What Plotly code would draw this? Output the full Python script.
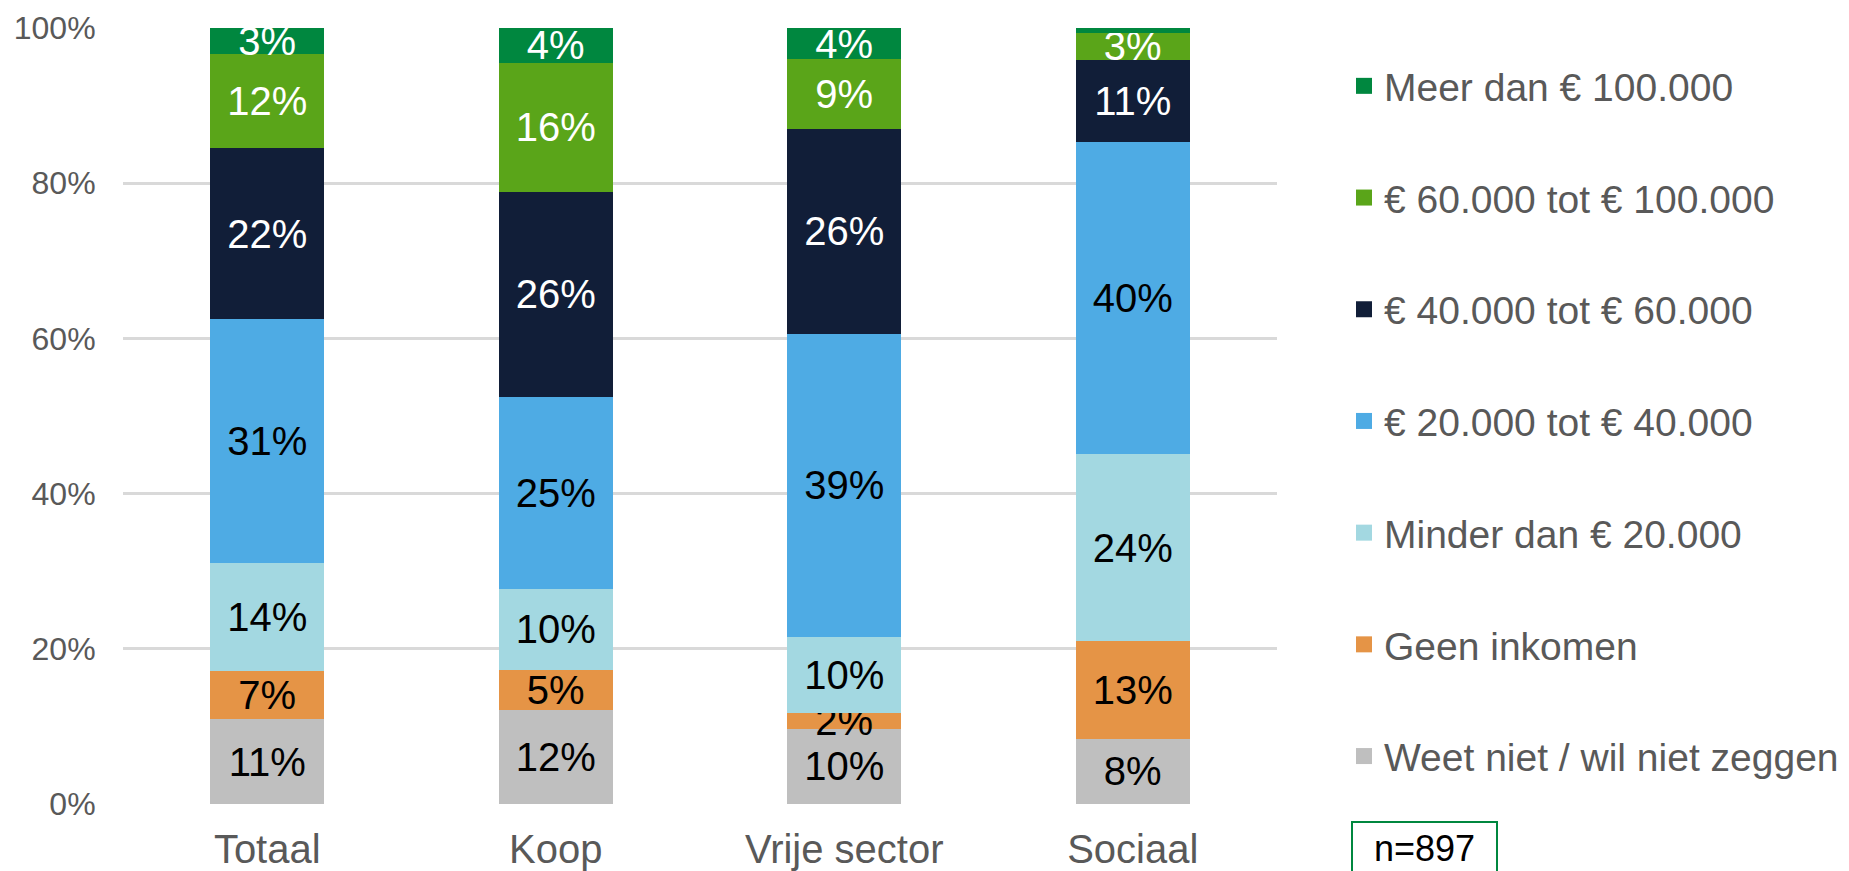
import plotly.graph_objects as go

categories = ["Totaal", "Koop", "Vrije sector", "Sociaal"]

series_names = [
    "Weet niet / wil niet zeggen",
    "Geen inkomen",
    "Minder dan € 20.000",
    "€ 20.000 tot € 40.000",
    "€ 40.000 tot € 60.000",
    "€ 60.000 tot € 100.000",
    "Meer dan € 100.000",
]

weet_niet = [10.9, 12.1, 9.7, 8.4]
geen_inkomen = [6.2, 5.2, 2.0, 12.6]
minder_20k = [14.0, 10.4, 9.8, 24.1]
k20_40 = [31.4, 24.8, 39.1, 40.2]
k40_60 = [22.0, 26.4, 26.4, 10.6]
k60_100 = [12.2, 16.6, 9.0, 3.5]
meer_100k = [3.3, 4.5, 4.0, 0.6]

labels_weet_niet = ["11%", "12%", "10%", "8%"]
labels_geen_inkomen = ["7%", "5%", "2%", "13%"]
labels_minder_20k = ["14%", "10%", "10%", "24%"]
labels_20_40 = ["31%", "25%", "39%", "40%"]
labels_40_60 = ["22%", "26%", "26%", "11%"]
labels_60_100 = ["12%", "16%", "9%", "3%"]
labels_meer_100k = ["3%", "4%", "4%", ""]

y_ticks = [0, 20, 40, 60, 80, 100]
y_tick_text = ["0%", "20%", "40%", "60%", "80%", "100%"]
sample_note = "n=897"

series_values = [weet_niet, geen_inkomen, minder_20k, k20_40, k40_60, k60_100, meer_100k]
series_labels = [labels_weet_niet, labels_geen_inkomen, labels_minder_20k, labels_20_40,
                 labels_40_60, labels_60_100, labels_meer_100k]
colors = ["#BFBFBF", "#E59446", "#A3D8E1", "#4EABE4", "#111E38", "#5AA519", "#00873F"]
text_colors = ["#000000", "#000000", "#000000", "#000000", "#FFFFFF", "#FFFFFF", "#FFFFFF"]

FONT = "Arial, 'Liberation Sans', sans-serif"
W, H = 1849, 871
L, R, T, B = 123, 572, 28, 67
PW, PH = W - L - R, H - T - B


def px_x(px):
    return (px - L) / PW


def px_y(py):
    return (H - B - py) / PH


fig = go.Figure()
for name, vals, labs, col, tcol in zip(series_names, series_values, series_labels, colors, text_colors):
    fig.add_trace(go.Bar(
        x=categories, y=vals, name=name, text=labs,
        marker=dict(color=col, line=dict(width=0)),
        textposition="inside", insidetextanchor="middle", textangle=0,
        textfont=dict(family=FONT, size=40, color=tcol),
        showlegend=False, hoverinfo="skip", cliponaxis=True,
    ))

# legend entries, listed top to bottom as in the reference
for i in range(len(series_names) - 1, -1, -1):
    fig.add_trace(go.Scatter(
        x=[None], y=[None], mode="markers", name=series_names[i],
        marker=dict(symbol="square", size=18, color=colors[i]),
        legendgroup=f"g{i}", showlegend=True, hoverinfo="skip",
    ))

fig.update_layout(
    width=W, height=H,
    margin=dict(l=L, r=R, t=T, b=B, autoexpand=False),
    barmode="stack", bargap=0.605,
    paper_bgcolor="white", plot_bgcolor="white",
    font=dict(family=FONT, color="#595959"),
    uniformtext=dict(minsize=40, mode="show"),
    legend=dict(
        xref="container", yref="container",
        x=1344 / W, y=1 - 54 / H, xanchor="left", yanchor="top",
        traceorder="grouped", tracegroupgap=58, maxheight=860,
        font=dict(family=FONT, size=39, color="#595959"),
        bgcolor="rgba(0,0,0,0)",
    ),
    xaxis=dict(
        automargin=False,
        tickfont=dict(family=FONT, size=40, color="#595959"),
        showgrid=False, showline=False, zeroline=False,
        ticks="outside", ticklen=10, tickcolor="rgba(0,0,0,0)",
    ),
    yaxis=dict(
        automargin=False,
        range=[0, 100], tickvals=y_ticks, ticktext=y_tick_text,
        tickfont=dict(family=FONT, size=32, color="#595959"),
        showgrid=True, gridcolor="#D9D9D9", gridwidth=2.5,
        zeroline=False, showline=False,
        ticks="outside", ticklen=20, tickcolor="rgba(0,0,0,0)",
    ),
    shapes=[dict(
        type="rect", xref="paper", yref="paper",
        x0=px_x(1352), x1=px_x(1497), y0=px_y(822), y1=px_y(884),
        line=dict(color="#00873F", width=2), fillcolor="white", layer="above",
    )],
    annotations=[dict(
        text=sample_note, xref="paper", yref="paper",
        x=px_x(1424), y=px_y(848),
        xanchor="center", yanchor="middle", showarrow=False,
        font=dict(family=FONT, size=36, color="#000000"),
    )],
)

fig.write_html(
    "out.html",
    config={"displayModeBar": False},
    post_script="document.body.style.margin='0px';document.body.style.overflow='hidden';",
)
